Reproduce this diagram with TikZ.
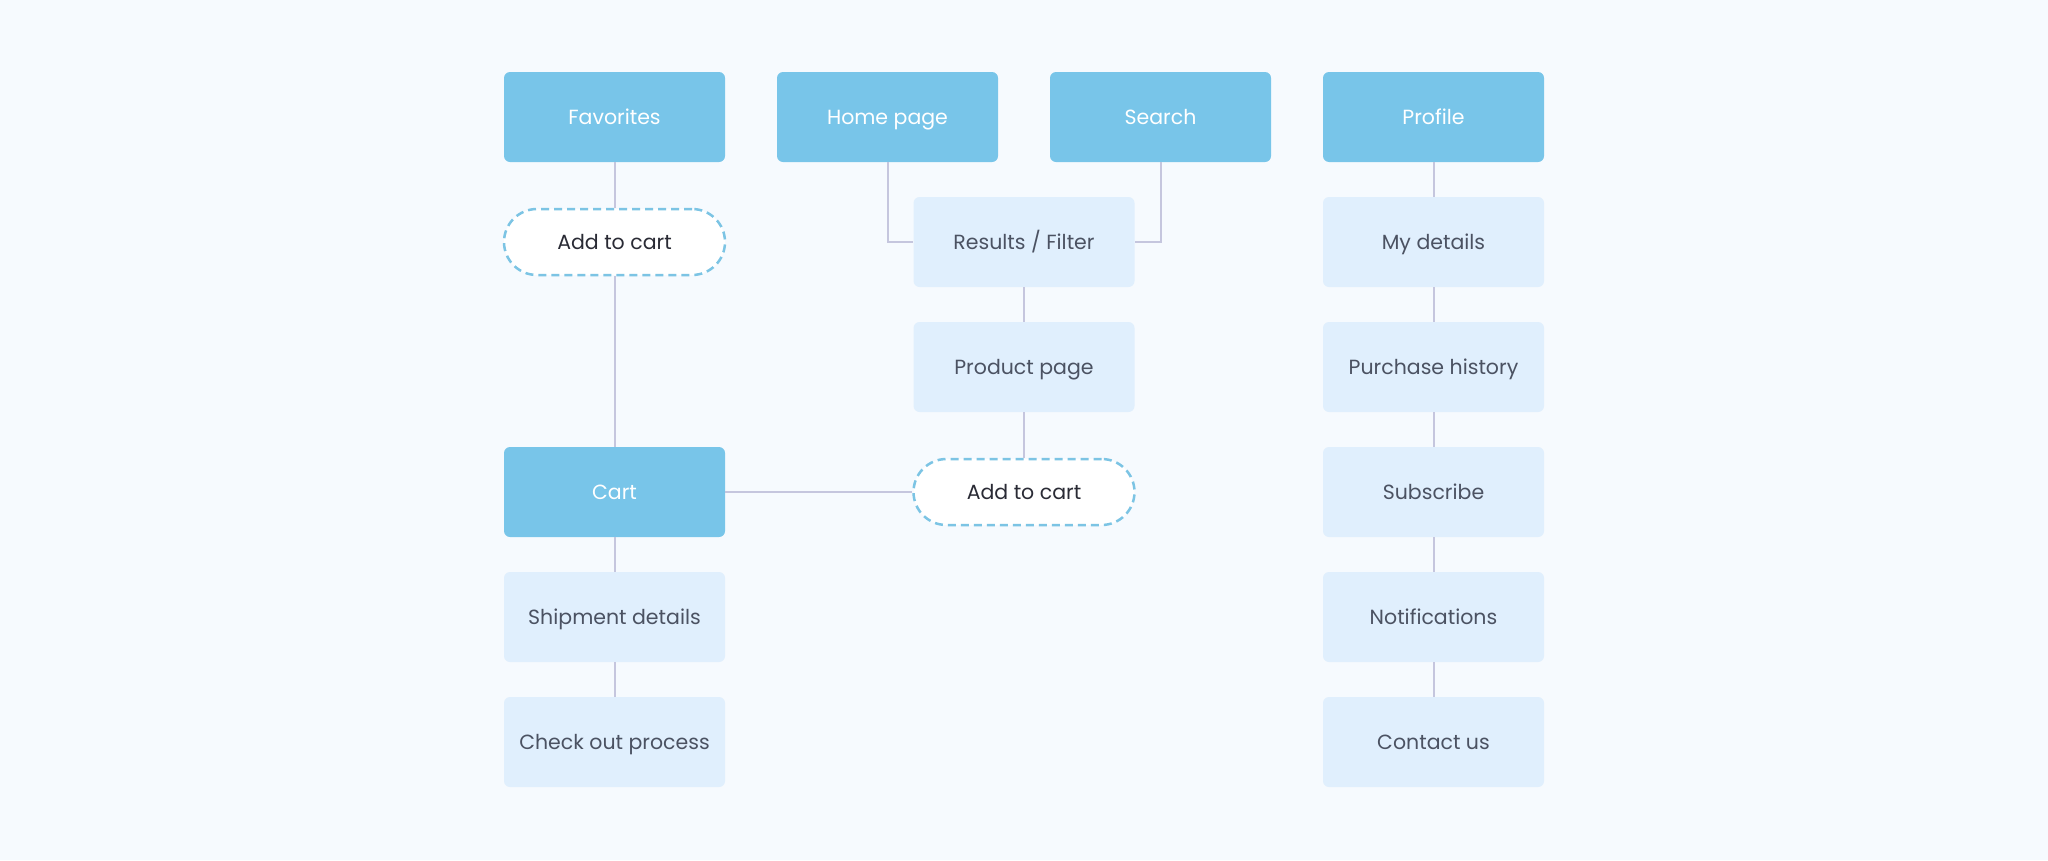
\documentclass[tikz,border=0pt]{standalone}
\usepackage{fontspec}
\setmainfont{Poppins}
\definecolor{bgc}{HTML}{F6FAFE}
\definecolor{darkbox}{HTML}{78C5E9}
\definecolor{lightbox}{HTML}{E0EFFD}
\definecolor{lighttext}{HTML}{4B5262}
\definecolor{pilltext}{HTML}{2A2B35}
\definecolor{linec}{HTML}{C5C6DE}
\definecolor{dashc}{HTML}{7CC4E4}
\tikzset{
  txt/.style={font=\fontsize{20.5}{24}\selectfont, text height=14.5pt, text depth=0pt},
  base/.style={rectangle, rounded corners=6pt, minimum width=221pt, minimum height=90pt, inner sep=0pt, txt},
  mainbox/.style={base, fill=darkbox, text=white},
  subbox/.style={base, fill=lightbox, text=lighttext},
  pill/.style={rectangle, rounded corners=33pt, minimum width=221pt, minimum height=66pt, inner sep=0pt, fill=white, draw=dashc, line width=2.5pt, dash pattern=on 8pt off 5pt, text=pilltext, txt},
  conn/.style={draw=linec, line width=2pt}
}
\begin{document}
\begin{tikzpicture}[x=1pt,y=-1pt]
\fill[bgc] (0,0) rectangle (2048,860);
\useasboundingbox (0,0) rectangle (2048,860);
% nodes
\node[mainbox] (fav) at (614.5,117) {Favorites};
\node[mainbox] (home) at (887.5,117) {Home page};
\node[mainbox] (search) at (1160.5,117) {Search};
\node[mainbox] (profile) at (1433.5,117) {Profile};
\node[pill] (fadd) at (614.5,242) {Add to cart};
\node[subbox] (results) at (1024,242) {Results / Filter};
\node[subbox] (product) at (1024,367) {Product page};
\node[pill] (cadd) at (1024,492) {Add to cart};
\node[mainbox] (cart) at (614.5,492) {Cart};
\node[subbox] (ship) at (614.5,617) {Shipment details};
\node[subbox] (check) at (614.5,742) {Check out process};
\node[subbox] (mydet) at (1433.5,242) {My details};
\node[subbox] (hist) at (1433.5,367) {Purchase history};
\node[subbox] (subs) at (1433.5,492) {Subscribe};
\node[subbox] (notif) at (1433.5,617) {Notifications};
\node[subbox] (contact) at (1433.5,742) {Contact us};
% connectors
\draw[conn] (fav.south) -- (fadd.north);
\draw[conn] (fadd.south) -- (cart.north);
\draw[conn] (home.south) |- (results.west);
\draw[conn] (search.south) |- (results.east);
\draw[conn] (results.south) -- (product.north);
\draw[conn] (product.south) -- (cadd.north);
\draw[conn] (cart.east) -- (cadd.west);
\draw[conn] (cart.south) -- (ship.north);
\draw[conn] (ship.south) -- (check.north);
\draw[conn] (profile.south) -- (mydet.north);
\draw[conn] (mydet.south) -- (hist.north);
\draw[conn] (hist.south) -- (subs.north);
\draw[conn] (subs.south) -- (notif.north);
\draw[conn] (notif.south) -- (contact.north);
\end{tikzpicture}
\end{document}
